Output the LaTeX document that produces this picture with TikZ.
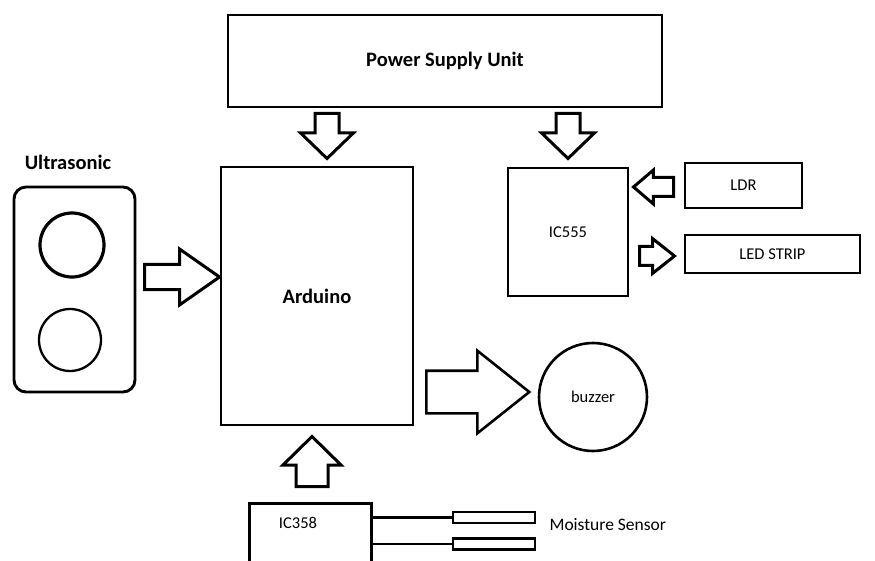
\documentclass[tikz,border=0pt]{standalone}
\usepackage{fontspec}
\setmainfont{Carlito}
\usetikzlibrary{shapes.arrows}
\begin{document}
\begin{tikzpicture}[x=1pt, y=-1pt,
        blk/.style={draw, line width=2.9pt, inner sep=0pt, font=\fontsize{16.5}{18}\selectfont},
        bigtxt/.style={font=\fontsize{20.5}{22}\selectfont\bfseries},
        hollow/.style={draw, line width=3pt, single arrow, inner xsep=0pt, anchor=tail}]
        \useasboundingbox (0,0) rectangle (875,561);
        \clip (0,0) rectangle (875,561);

        \node[blk, bigtxt, minimum width=434, minimum height=92] (psu) at (445,61) {Power Supply Unit};
        \node[blk, bigtxt, minimum width=192, minimum height=258] (ard) at (317,296) {Arduino};
        \node[blk, minimum width=120, minimum height=128] (ic555) at (568,232) {IC555};
        \node[blk, minimum width=117, minimum height=45] (ldr) at (743.5,185.5) {LDR};
        \node[blk, minimum width=175, minimum height=38] (led) at (772.5,254) {LED STRIP};
        \node[blk, circle, line width=2.6pt, minimum size=108] (buzz) at (593,397) {buzzer};

        % ultrasonic sensor
        \node[bigtxt] (ustxt) at (68,162) {Ultrasonic};
        \node[blk, rounded corners=12pt, minimum width=121, minimum height=205] (us) at (74.5,289.5) {};
        \node[blk, circle, line width=3.2pt, minimum size=64] (echo) at (72,245) {};
        \node[blk, circle, line width=2.3pt, minimum size=62] (trig) at (70,340) {};

        % moisture sensor
        \node[blk, anchor=north west, minimum width=122, minimum height=80] (ic358) at (248,502) {};
        \node[font=\fontsize{16.5}{18}\selectfont] (ic358txt) at (298,523) {IC358};
        \node[draw, line width=2.4pt, minimum width=82, minimum height=11, inner sep=0pt] (probeA) at (494,517.5) {};
        \node[draw, line width=2.4pt, minimum width=82, minimum height=11, inner sep=0pt] (probeB) at (494,544) {};
        \draw[line width=2.4pt] (probeA.west) -- (probeA.west -| ic358.east);
        \draw[line width=2.4pt] (probeB.west) -- (probeB.west -| ic358.east);
        \node[anchor=west, font=\fontsize{17.5}{19}\selectfont] (mstxt) at (546,525) {Moisture Sensor};

        % block arrows
        \node[hollow, rotate=-90, minimum height=45, inner ysep=10.5, single arrow head extend=14.5, single arrow tip angle=92] (a1) at (327,112) {};
        \node[hollow, rotate=-90, minimum height=45, inner ysep=10.5, single arrow head extend=14.5, single arrow tip angle=92] (a2) at (568,112) {};
        \node[hollow, minimum height=75, inner ysep=11, single arrow head extend=15.5, single arrow tip angle=70] (a3) at (143,277) {};
        \node[hollow, rotate=180, minimum height=40, inner ysep=8, single arrow head extend=7.5, single arrow tip angle=81] (a4) at (675,187) {};
        \node[hollow, minimum height=35, inner ysep=8, single arrow head extend=8, single arrow tip angle=77] (a5) at (638,256) {};
        \node[hollow, line width=2.6pt, minimum height=103, inner ysep=20, single arrow head extend=20, single arrow tip angle=77] (a6) at (425,392) {};
        \node[hollow, rotate=90, minimum height=50, inner ysep=14.5, single arrow head extend=13, single arrow tip angle=91] (a7) at (312,488) {};
\end{tikzpicture}
\end{document}
